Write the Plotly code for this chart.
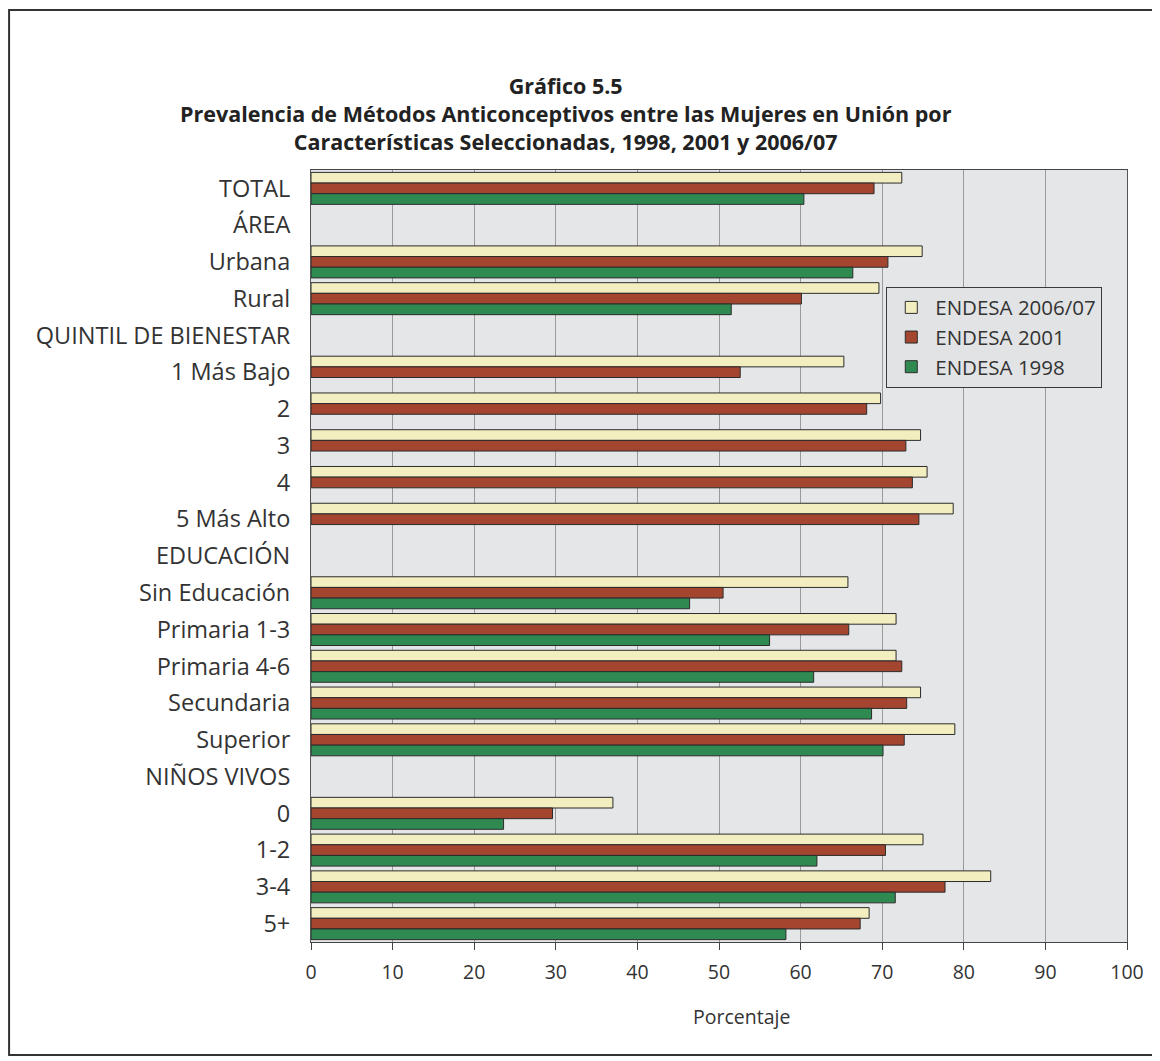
import plotly.graph_objects as go

categories = [
    'TOTAL', 'ÁREA', 'Urbana', 'Rural', 'QUINTIL DE BIENESTAR',
    '1 Más Bajo', '2', '3', '4', '5 Más Alto', 'EDUCACIÓN',
    'Sin Educación', 'Primaria 1-3', 'Primaria 4-6', 'Secundaria', 'Superior',
    'NIÑOS VIVOS', '0', '1-2', '3-4', '5+',
]
endesa_2007 = [72.4, None, 74.9, 69.6, None,
               65.3, 69.8, 74.7, 75.5, 78.7, None,
               65.8, 71.7, 71.7, 74.7, 78.9,
               None, 37.0, 75.0, 83.3, 68.4]
endesa_2001 = [69.0, None, 70.7, 60.1, None,
               52.6, 68.1, 72.9, 73.7, 74.5, None,
               50.5, 65.9, 72.4, 73.0, 72.7,
               None, 29.6, 70.4, 77.7, 67.3]
endesa_1998 = [60.4, None, 66.4, 51.5, None,
               None, None, None, None, None, None,
               46.4, 56.2, 61.6, 68.7, 70.1,
               None, 23.6, 62.0, 71.6, 58.2]
series_names = ['ENDESA 2006/07', 'ENDESA 2001', 'ENDESA 1998']
x_ticks = list(range(0, 101, 10))

colors = ['#f3eebf', '#a4452f', '#2f8a52']
FONT = 'Open Sans, Lato, sans-serif'

fig = go.Figure()
for name, vals, col in zip(series_names, [endesa_2007, endesa_2001, endesa_1998], colors):
    fig.add_trace(go.Bar(
        y=categories, x=vals, name=name, orientation='h', legendgroup=name,
        marker=dict(color=col, line=dict(color='#2b2b2b', width=1)),
    ))

# marco exterior
fig.add_shape(type='rect', xref='paper', yref='paper',
              x0=-0.3700, x1=1.0343, y0=-0.1464, y1=1.2073,
              line=dict(color='#333333', width=2), layer='below')

title_lines = [
    'Gráfico 5.5',
    'Prevalencia de Métodos Anticonceptivos entre las Mujeres en Unión por',
    'Características Seleccionadas, 1998, 2001 y 2006/07',
]
fig.add_annotation(text='<br>'.join(f'<b>{t}</b>' for t in title_lines),
                   xref='paper', yref='paper', x=0.3125, y=1.0738,
                   showarrow=False, xanchor='center', yanchor='middle', align='center',
                   font=dict(family=FONT, size=21.5, color='#222222'))

# título del eje x (algo desplazado a la derecha en el original)
fig.add_annotation(text='Porcentaje', xref='paper', yref='paper', x=0.527, y=-0.0971,
                   showarrow=False, xanchor='center', yanchor='middle',
                   font=dict(family=FONT, size=19.5, color='#333333'))

# la página añade 8px de margen: se compensa en el tamaño y los márgenes
fig.update_layout(
    width=1152, height=1053,
    margin=dict(l=303, r=33, t=162, b=119),
    paper_bgcolor='white',
    plot_bgcolor='#e5e6e8',
    barmode='group', bargap=0.13, bargroupgap=0,
    font=dict(family=FONT, size=17, color='#333333'),
    showlegend=True,
    legend=dict(x=0.705, y=0.849, xanchor='left', yanchor='top',
                bgcolor='#e2e3e5', bordercolor='#3a3a3a', borderwidth=1,
                font=dict(size=20.5, color='#333333'), traceorder='normal',
                itemwidth=38, tracegroupgap=3),
)
fig.update_xaxes(range=[0, 100], tickvals=x_ticks, showgrid=True, gridcolor='#9a9a9a',
                 gridwidth=1, zeroline=False, showline=True, linecolor='#444444',
                 mirror=True, ticks='outside', ticklen=7, tickcolor='#444444',
                 ticklabelstandoff=6, tickfont=dict(size=19.5))
fig.update_yaxes(autorange='reversed', showgrid=False, showline=True, linecolor='#555555',
                 mirror=True, ticks='outside', ticklen=15, tickcolor='rgba(0,0,0,0)',
                 tickfont=dict(size=23.5))

fig.write_html('out.html')
